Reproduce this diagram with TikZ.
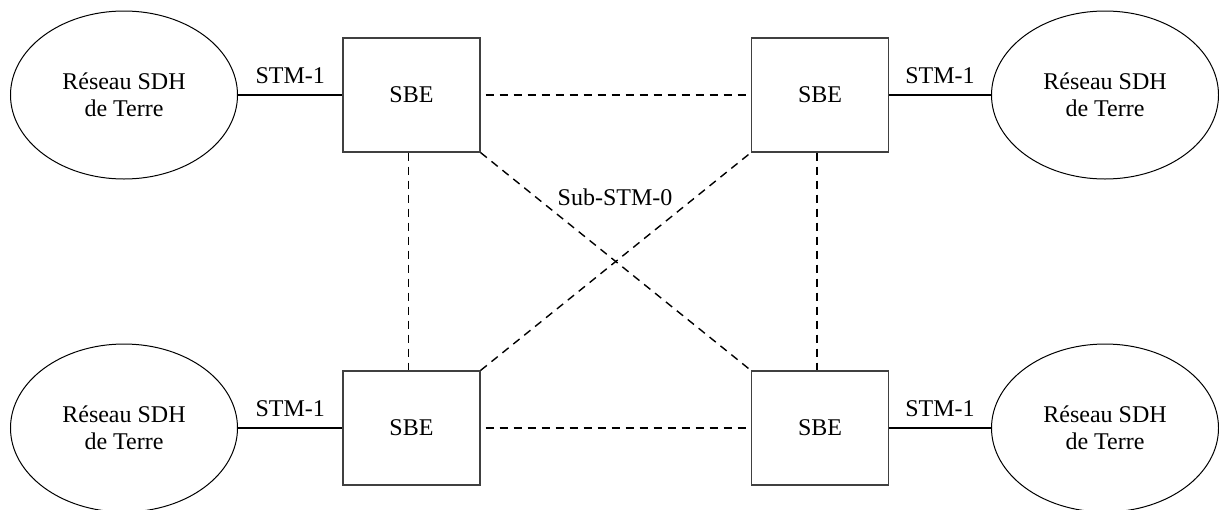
\documentclass[tikz,border=0pt]{standalone}
\usepackage{fontspec}
\setmainfont{Liberation Serif}
\usetikzlibrary{shapes.geometric}

\begin{document}
\begin{tikzpicture}[x=0.5pt,y=-0.5pt]
        \tikzstyle{every node}=[font=\fontsize{12}{13.5}\selectfont]
        \tikzstyle{reseau}=[draw, ellipse, line width=0.5pt, minimum width=113.5pt, minimum height=84pt, inner sep=0pt, align=center]
        \tikzstyle{sbe}=[draw=black!75, rectangle, line width=0.6pt, minimum width=68.5pt, minimum height=57pt]
        \tikzstyle{stm}=[line width=0.9pt]
        \tikzstyle{substm}=[line width=0.7pt, dash pattern=on 4pt off 3pt]
        \useasboundingbox (0,0) rectangle (1219,509);

        % reseaux de terre
        \node[reseau] (terreHG) at (124, 95) {Réseau SDH\\de Terre};
        \node[reseau] (terreBG) at (124, 428) {Réseau SDH\\de Terre};
        \node[reseau] (terreHD) at (1105, 95) {Réseau SDH\\de Terre};
        \node[reseau] (terreBD) at (1105, 428) {Réseau SDH\\de Terre};

        % equipements SBE
        \node[sbe] (sbeHG) at (411.5, 95) {SBE};
        \node[sbe] (sbeHD) at (820, 95) {SBE};
        \node[sbe] (sbeBG) at (411.5, 428) {SBE};
        \node[sbe] (sbeBD) at (820, 428) {SBE};

        % liaisons STM-1
        \draw[stm] (terreHG) -- node[above=2pt] {STM-1} (sbeHG);
        \draw[stm] (terreBG) -- node[above=2pt] {STM-1} (sbeBG);
        \draw[stm] (sbeHD) -- node[above=2pt] {STM-1} (terreHD);
        \draw[stm] (sbeBD) -- node[above=2pt] {STM-1} (terreBD);

        % liaisons Sub-STM-0
        \draw[substm, shorten <=2.5pt] (sbeHG) -- (sbeHD);
        \draw[substm, shorten <=2.5pt] (sbeBG) -- (sbeBD);
        \draw[substm] ([xshift=-1.5pt]sbeHG.south) -- ([xshift=-1.5pt]sbeBG.north);
        \draw[substm] ([xshift=-1.5pt]sbeHD.south) -- ([xshift=-1.5pt]sbeBD.north);
        \draw[substm] (sbeHG.south east) -- (sbeBD.north west);
        \draw[substm] (sbeBG.north east) -- (sbeHD.south west);
        \node (subSTM) at (615, 197) {Sub-STM-0};
    \end{tikzpicture}
\end{document}
